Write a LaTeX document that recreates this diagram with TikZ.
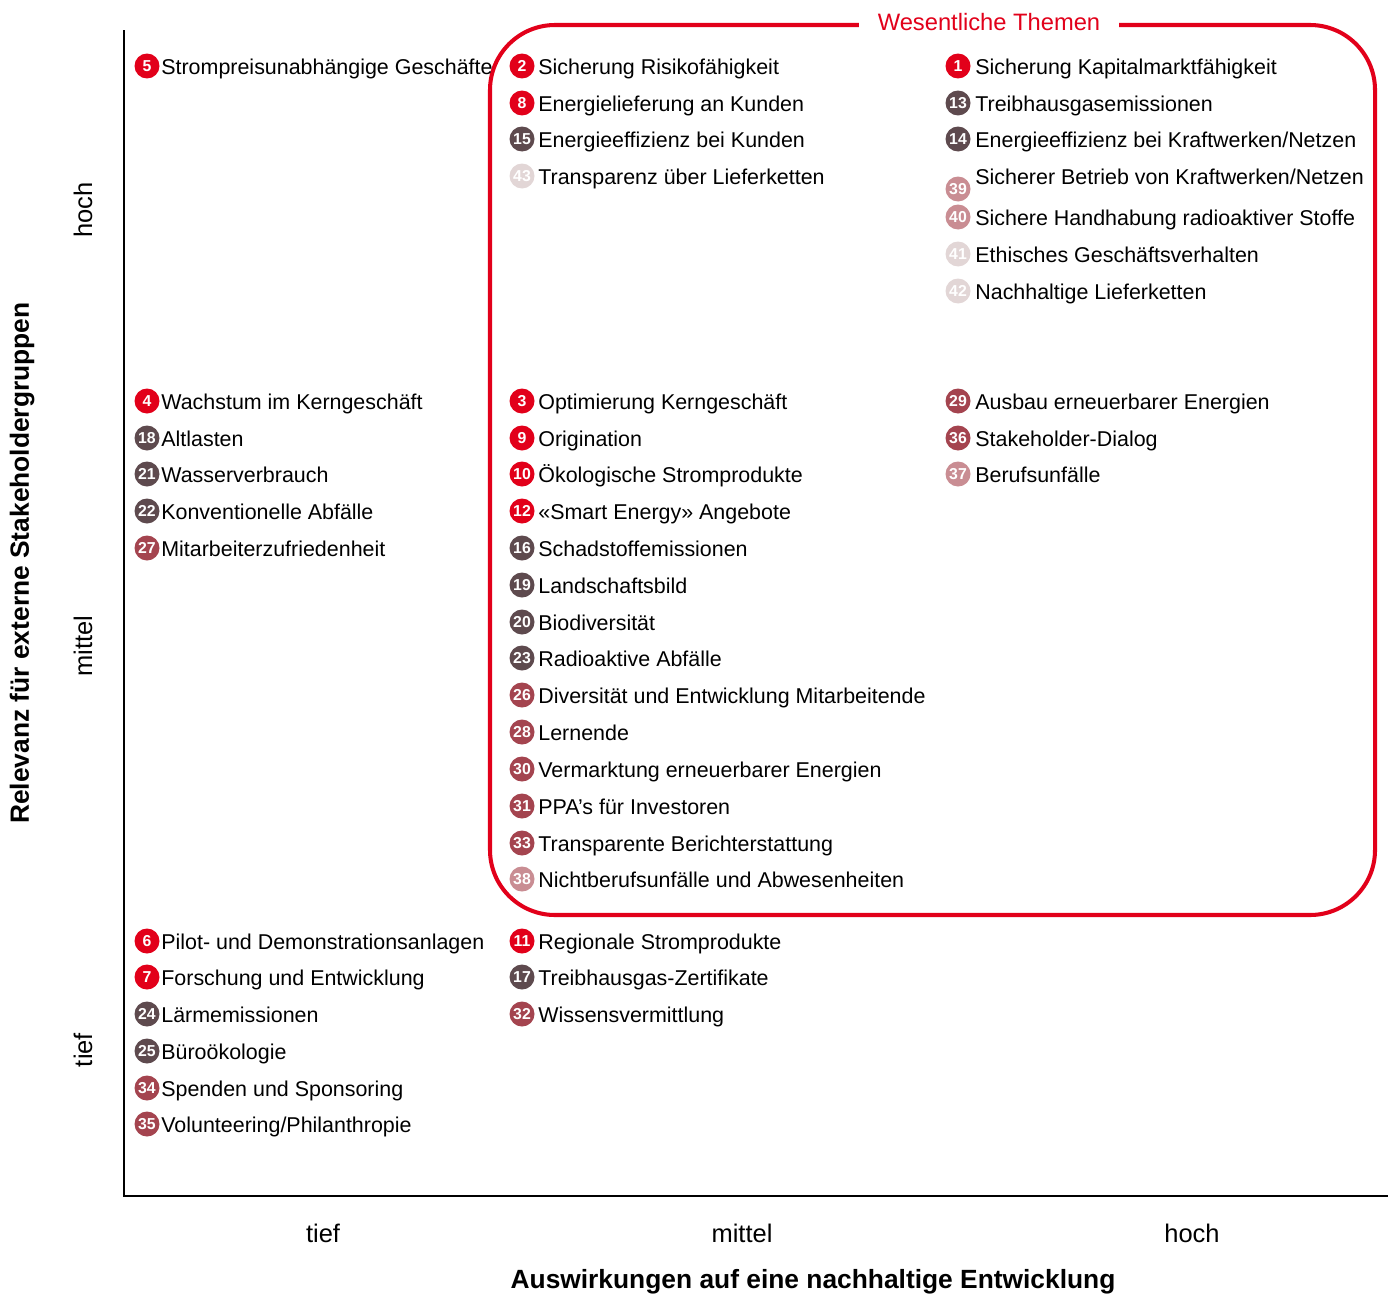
\documentclass[tikz,border=0pt]{standalone}
\usepackage{fontspec}
\setmainfont{Liberation Sans}
\definecolor{bkred}{HTML}{E2001A}
\definecolor{bkbrown}{HTML}{5E4A4E}
\definecolor{bkmaroon}{HTML}{A4444F}
\definecolor{bkpink}{HTML}{C98D93}
\definecolor{bklight}{HTML}{E2D6D6}
\begin{document}
\begin{tikzpicture}[x=0.02cm, y=-0.02cm,
  badge/.style={circle, fill=#1, text=white, inner sep=0pt, minimum size=0.5cm,
    font=\fontsize{9}{9}\selectfont\bfseries},
  topic/.style={anchor=base west, inner sep=0pt, font=\fontsize{12.2}{14}\selectfont},
  tick/.style={font=\fontsize{14.5}{16}\selectfont},
  axislbl/.style={font=\fontsize{15}{17}\selectfont\bfseries},
  axis/.style={line width=1.1pt, black},
  themebox/.style={draw=bkred, line width=2.3pt, rounded corners=1.3cm}]
  \useasboundingbox (0,0) rectangle (1395,1298);

  % axes
  \coordinate (ytop) at (124,30);
  \coordinate (origin) at (124,1196);
  \coordinate (xend) at (1388,1196);
  \draw[axis] (ytop) -- (origin) -- (xend);
  \node[tick] (xlo) at (323,1233) {tief};
  \node[tick] (xmid) at (742,1233) {mittel};
  \node[tick] (xhi) at (1192,1233) {hoch};
  \node[axislbl] (xlabel) at (813,1282) {Auswirkungen auf eine nachhaltige Entwicklung};
  \node[tick, rotate=90] (ylo) at (83,1050) {tief};
  \node[tick, rotate=90] (ymid) at (83,646) {mittel};
  \node[tick, rotate=90] (yhi) at (83,210) {hoch};
  \node[axislbl, rotate=90] (ylabel) at (22,563) {Relevanz für externe Stakeholdergruppen};

  % material topics
  \draw[themebox] (490,25) rectangle (1375,915);
  \node[fill=white, text=bkred, inner xsep=0.38cm, inner ysep=2pt,
    font=\fontsize{13.5}{15}\selectfont] (themes) at (989,22) {Wesentliche Themen};

  % left column
  \node[badge=bkred] (n5) at (147,66) {5}; \node[topic] (t5) at (161,74) {Strompreisunabhängige Geschäfte};
  \node[badge=bkred] (n4) at (147,401) {4}; \node[topic] (t4) at (161,409) {Wachstum im Kerngeschäft};
  \node[badge=bkbrown] (n18) at (147,438) {18}; \node[topic] (t18) at (161,446) {Altlasten};
  \node[badge=bkbrown] (n21) at (147,474) {21}; \node[topic] (t21) at (161,482) {Wasserverbrauch};
  \node[badge=bkbrown] (n22) at (147,511) {22}; \node[topic] (t22) at (161,519) {Konventionelle Abfälle};
  \node[badge=bkmaroon] (n27) at (147,548) {27}; \node[topic] (t27) at (161,556) {Mitarbeiterzufriedenheit};
  \node[badge=bkred] (n6) at (147,941) {6}; \node[topic] (t6) at (161,949) {Pilot- und Demonstrationsanlagen};
  \node[badge=bkred] (n7) at (147,977) {7}; \node[topic] (t7) at (161,985) {Forschung und Entwicklung};
  \node[badge=bkbrown] (n24) at (147,1014) {24}; \node[topic] (t24) at (161,1022) {Lärmemissionen};
  \node[badge=bkbrown] (n25) at (147,1051) {25}; \node[topic] (t25) at (161,1059) {Büroökologie};
  \node[badge=bkmaroon] (n34) at (147,1088) {34}; \node[topic] (t34) at (161,1096) {Spenden und Sponsoring};
  \node[badge=bkmaroon] (n35) at (147,1124) {35}; \node[topic] (t35) at (161,1132) {Volunteering/Philanthropie};

  % middle column
  \node[badge=bkred] (n2) at (522,66) {2}; \node[topic] (t2) at (538,74) {Sicherung Risikofähigkeit};
  \node[badge=bkred] (n8) at (522,103) {8}; \node[topic] (t8) at (538,111) {Energielieferung an Kunden};
  \node[badge=bkbrown] (n15) at (522,139) {15}; \node[topic] (t15) at (538,147) {Energieeffizienz bei Kunden};
  \node[badge=bklight] (n43) at (522,176) {43}; \node[topic] (t43) at (538,184) {Transparenz über Lieferketten};
  \node[badge=bkred] (n3) at (522,401) {3}; \node[topic] (t3) at (538,409) {Optimierung Kerngeschäft};
  \node[badge=bkred] (n9) at (522,438) {9}; \node[topic] (t9) at (538,446) {Origination};
  \node[badge=bkred] (n10) at (522,474) {10}; \node[topic] (t10) at (538,482) {Ökologische Stromprodukte};
  \node[badge=bkred] (n12) at (522,511) {12}; \node[topic] (t12) at (538,519) {«Smart Energy» Angebote};
  \node[badge=bkbrown] (n16) at (522,548) {16}; \node[topic] (t16) at (538,556) {Schadstoffemissionen};
  \node[badge=bkbrown] (n19) at (522,585) {19}; \node[topic] (t19) at (538,593) {Landschaftsbild};
  \node[badge=bkbrown] (n20) at (522,622) {20}; \node[topic] (t20) at (538,630) {Biodiversität};
  \node[badge=bkbrown] (n23) at (522,658) {23}; \node[topic] (t23) at (538,666) {Radioaktive Abfälle};
  \node[badge=bkmaroon] (n26) at (522,695) {26}; \node[topic] (t26) at (538,703) {Diversität und Entwicklung Mitarbeitende};
  \node[badge=bkmaroon] (n28) at (522,732) {28}; \node[topic] (t28) at (538,740) {Lernende};
  \node[badge=bkmaroon] (n30) at (522,769) {30}; \node[topic] (t30) at (538,777) {Vermarktung erneuerbarer Energien};
  \node[badge=bkmaroon] (n31) at (522,806) {31}; \node[topic] (t31) at (538,814) {PPA’s für Investoren};
  \node[badge=bkmaroon] (n33) at (522,843) {33}; \node[topic] (t33) at (538,851) {Transparente Berichterstattung};
  \node[badge=bkpink] (n38) at (522,879) {38}; \node[topic] (t38) at (538,887) {Nichtberufsunfälle und Abwesenheiten};
  \node[badge=bkred] (n11) at (522,941) {11}; \node[topic] (t11) at (538,949) {Regionale Stromprodukte};
  \node[badge=bkbrown] (n17) at (522,977) {17}; \node[topic] (t17) at (538,985) {Treibhausgas-Zertifikate};
  \node[badge=bkmaroon] (n32) at (522,1014) {32}; \node[topic] (t32) at (538,1022) {Wissensvermittlung};

  % right column
  \node[badge=bkred] (n1) at (958,66) {1}; \node[topic] (t1) at (975,74) {Sicherung Kapitalmarktfähigkeit};
  \node[badge=bkbrown] (n13) at (958,103) {13}; \node[topic] (t13) at (975,111) {Treibhausgasemissionen};
  \node[badge=bkbrown] (n14) at (958,139) {14}; \node[topic] (t14) at (975,147) {Energieeffizienz bei Kraftwerken/Netzen};
  \node[badge=bkpink] (n39) at (958,189) {39}; \node[topic] (t39) at (975,184) {Sicherer Betrieb von Kraftwerken/Netzen};
  \node[badge=bkpink] (n40) at (958,217) {40}; \node[topic] (t40) at (975,225) {Sichere Handhabung radioaktiver Stoffe};
  \node[badge=bklight] (n41) at (958,254) {41}; \node[topic] (t41) at (975,262) {Ethisches Geschäftsverhalten};
  \node[badge=bklight] (n42) at (958,291) {42}; \node[topic] (t42) at (975,299) {Nachhaltige Lieferketten};
  \node[badge=bkmaroon] (n29) at (958,401) {29}; \node[topic] (t29) at (975,409) {Ausbau erneuerbarer Energien};
  \node[badge=bkmaroon] (n36) at (958,438) {36}; \node[topic] (t36) at (975,446) {Stakeholder-Dialog};
  \node[badge=bkpink] (n37) at (958,474) {37}; \node[topic] (t37) at (975,482) {Berufsunfälle};
\end{tikzpicture}
\end{document}
